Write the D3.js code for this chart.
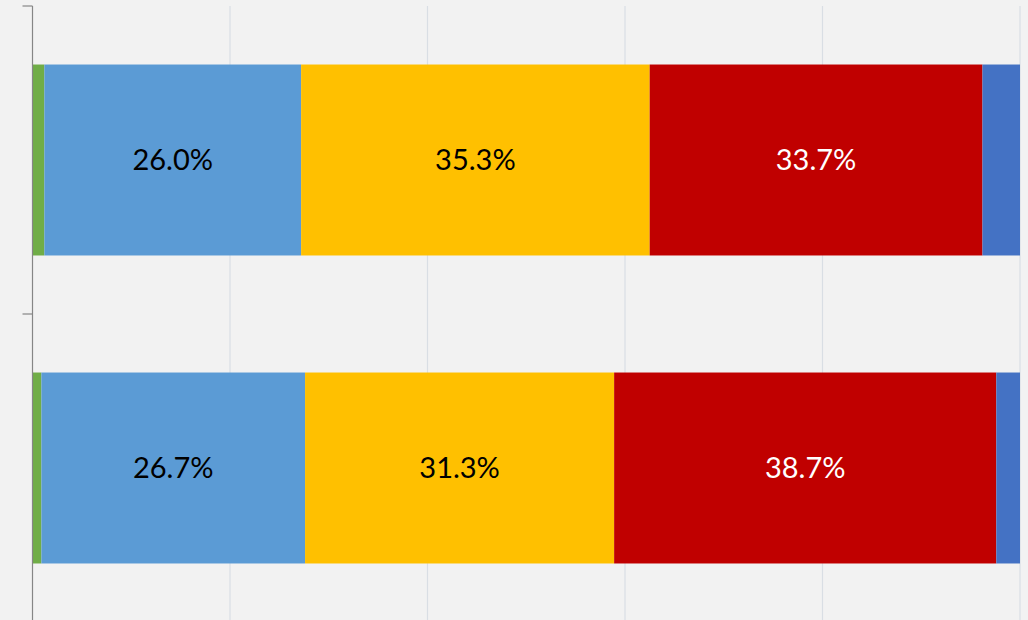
<!DOCTYPE html>
<html>
<head>
<meta charset="utf-8">
<script src="https://cdn.jsdelivr.net/npm/d3@7"></script>
<style>
  html, body { margin: 0; padding: 0; background: #F2F2F2; overflow: hidden; }
  svg { display: block; }
</style>
</head>
<body>
<svg id="chart" width="1028" height="620"></svg>
<script>
const categories = ["Group 1", "Group 2"];
const seriesNames = ["S1", "S2", "S3", "S4", "S5"];
const seriesColors = ["#70AD47", "#5B9BD5", "#FFC000", "#C00000", "#4472C4"];
const labelColors = [null, "#000000", "#000000", "#FFFFFF", null];
const valuesS1 = [1.2, 0.9];
const valuesS2 = [26.0, 26.7];
const valuesS3 = [35.3, 31.3];
const valuesS4 = [33.7, 38.7];
const valuesS5 = [3.8, 2.4];
const xTicks = [0, 20, 40, 60, 80, 100];

const seriesValues = [valuesS1, valuesS2, valuesS3, valuesS4, valuesS5];
const rows = categories.map((c, i) => {
  const r = { category: c };
  seriesNames.forEach((s, j) => r[s] = seriesValues[j][i]);
  return r;
});

const svg = d3.select("#chart");
const W = 1028, H = 620;
const plot = { left: 32.5, right: 1020, top: 6, bottom: 622 };

const x = d3.scaleLinear().domain([0, 100]).range([plot.left, plot.right]);
const y = d3.scaleBand().domain(categories).range([plot.top, plot.bottom]).paddingInner(0.38).paddingOuter(0.19);

svg.append("rect").attr("width", W).attr("height", H).attr("fill", "#F2F2F2");

// gridlines
svg.append("g")
  .selectAll("line")
  .data(xTicks.slice(1))
  .join("line")
  .attr("x1", d => x(d)).attr("x2", d => x(d))
  .attr("y1", plot.top).attr("y2", H)
  .attr("stroke", "#D9DEE4").attr("stroke-width", 1.2);

// bars
const stack = d3.stack().keys(seriesNames);
const stacked = stack(rows);

const layers = svg.append("g").selectAll("g")
  .data(stacked)
  .join("g")
  .attr("fill", (d, i) => seriesColors[i]);

layers.selectAll("rect")
  .data(d => d)
  .join("rect")
  .attr("x", d => x(d[0]))
  .attr("width", d => x(d[1]) - x(d[0]))
  .attr("y", d => y(d.data.category))
  .attr("height", y.bandwidth());

// data labels
stacked.forEach((layer, i) => {
  if (!labelColors[i]) return;
  svg.append("g").selectAll("text")
    .data(layer)
    .join("text")
    .attr("x", d => (x(d[0]) + x(d[1])) / 2)
    .attr("y", d => y(d.data.category) + y.bandwidth() / 2)
    .attr("dy", "0.36em")
    .attr("text-anchor", "middle")
    .attr("font-family", "Lato, 'Open Sans', sans-serif")
    .attr("font-size", 29)
    .attr("fill", labelColors[i])
    .text(d => d3.format(".1f")(d[1] - d[0]) + "%");
});

// y axis line
svg.append("line")
  .attr("x1", plot.left).attr("x2", plot.left)
  .attr("y1", plot.top).attr("y2", H)
  .attr("stroke", "#868686").attr("stroke-width", 1.2);
// category boundary ticks
const boundaries = [plot.top, (y(categories[0]) + y.bandwidth() + y(categories[1])) / 2];
svg.append("g").selectAll("line")
  .data(boundaries)
  .join("line")
  .attr("x1", plot.left - 10).attr("x2", plot.left)
  .attr("y1", d => d).attr("y2", d => d)
  .attr("stroke", "#868686").attr("stroke-width", 1.2);
</script>
</body>
</html>
